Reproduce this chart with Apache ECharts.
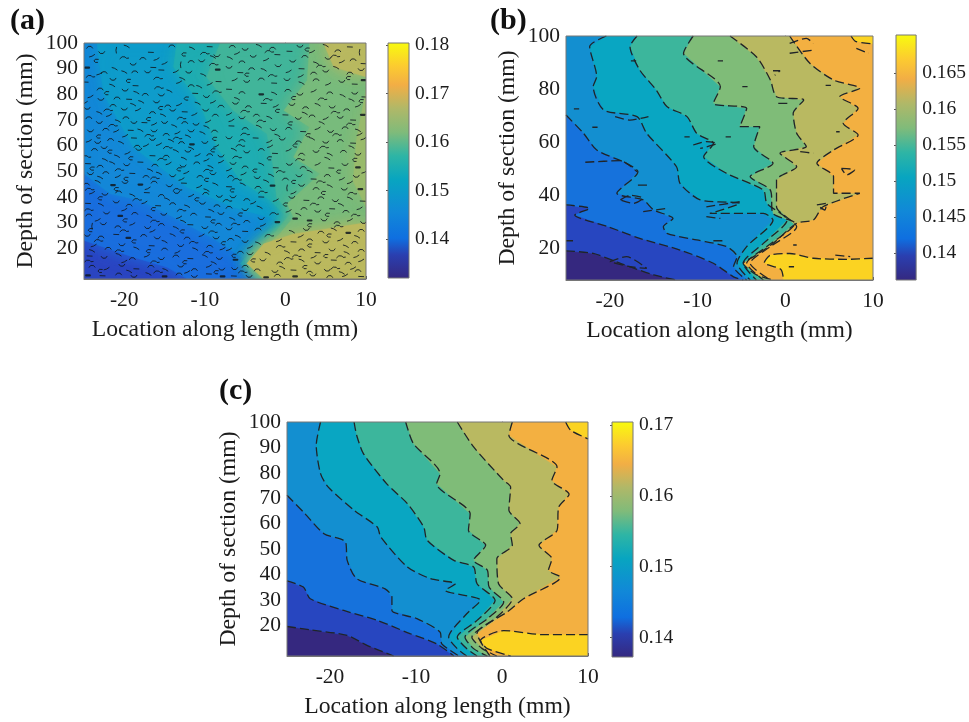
<!DOCTYPE html>
<html><head><meta charset="utf-8">
<style>html,body{margin:0;padding:0;background:#fff}#c{width:969px;height:722px;filter:blur(0.55px)}</style>
<script src="https://cdn.jsdelivr.net/npm/echarts@6/dist/echarts.min.js"></script>
</head><body><div id="c"></div>
<script>
// ---- axis extents and tick labels
const xMin=-25,xMax=10,yMin=8,yMax=100;
const xTicks=[-20,-10,0,10];
const yTicksA=[20,30,40,50,60,70,80,90,100];
const yTicksB=[20,40,60,80,100];
const yTicksC=[20,30,40,50,60,70,80,90,100];
const barRangeA=[0.13196,0.1804], barTicksA=[0.14,0.15,0.16,0.17,0.18];
const barRangeB=[0.13625,0.1703], barTicksB=[0.14,0.145,0.15,0.155,0.16,0.165];
const barRangeC=[0.13728,0.1704], barTicksC=[0.14,0.15,0.16,0.17];

// ---- contour boundaries, [location, depth]
const contoursA=[
[[-25,23],[-18.9,16.5],[-14.7,12.6],[-12.2,8]],
[[-25,49],[-21.8,41.2],[-18,38.6],[-13.9,32.1],[-8.9,23.7],[-5.2,15.9],[-2.7,8]],
[[-23.4,100],[-22.6,80.2],[-18.9,59.4],[-12.2,43.8],[-6.5,36],[-0.7,30.8],[-3.1,24.3],[-5.6,13.9],[-3.1,8]],
[[-13.5,100],[-13.9,90.6],[-10.6,76.3],[-8.5,59.4],[-5.6,46.4],[-1.9,38.6],[0.2,32.1],[-1.5,26.9],[-4.8,15.2],[-3,8]],
[[-8.1,100],[-9.8,86.7],[-6.5,73.7],[-2.3,64.6],[-1.5,51.6],[-1.1,39.9],[0.6,33.4],[-1.1,26.9],[-4.6,15.2],[-2.9,8]],
[[3,100],[2.7,85.4],[-0.2,73.7],[3,67.2],[1,55.5],[4.3,49],[0.2,37.3],[1,32.1],[-0.7,25.6],[-4.4,15.2],[-2.7,8]],
[[10,82],[8.8,62],[8.4,46],[10,36]],
[[4.7,100],[6,90.6],[10,86.7]],
[[10,30],[6,28],[1,25.5],[-2.7,21.7],[-4.8,14],[-2.7,8]]
];
const contoursB=[
[[-25,19],[-21.9,18],[-18.8,14.3],[-15,9.9],[-12.4,8]],
[[-25,36.3],[-22.3,35],[-24,32.5],[-20.2,28.1],[-16.6,23.7],[-12,19.3],[-8.2,14.3],[-5.9,9.2],[-4.8,8]],
[[-25,70.2],[-23,63.3],[-21.5,57],[-18.1,52],[-16.8,48.8],[-19.2,40.7],[-16.2,38.2],[-15,34.4],[-12.8,31.2],[-13.9,28.1],[-13.5,25.6],[-10.1,23.1],[-6.7,20.6],[-5.5,16.8],[-5.9,13],[-4.4,8]],
[[-20.4,100],[-22.3,96],[-21.5,84.7],[-21.9,80.9],[-20.7,72.1],[-16.9,69.6],[-15.8,63.3],[-12.4,50.7],[-12,44.4],[-9.7,38.2],[-5.2,36.9],[-8.6,33.1],[-2.5,33.1],[-1.4,30.6],[-4.4,20.6],[-5.5,14.3],[-4,8]],
[[-16.9,100],[-17.7,96],[-16.6,87.2],[-14.7,79.6],[-13.5,73.4],[-11.2,69.6],[-10.1,63.3],[-8.2,59.5],[-9.3,54.5],[-6.7,48.2],[-2.5,41.9],[-2.1,36.9],[0.2,30.6],[-2.5,21.8],[-4.8,14.3],[-3.3,8]],
[[-10.5,100],[-11.6,93.5],[-7.4,80.9],[-8.2,74.6],[-4.4,72.7],[-5.2,65.8],[-2.9,65.8],[-3.6,58.3],[-1.4,52],[-4,47],[-1.7,41.9],[-1.4,33.1],[1.1,29.4],[-2.1,20.6],[-4.4,14.3],[-2.5,8]],
[[-6.3,100],[-3.3,92.2],[-1.7,83.4],[-1,77.1],[2.1,75.9],[0.9,70.8],[1.3,63.3],[2.4,58.3],[-0.6,55.8],[1.3,50.7],[-1,45.7],[-1,35.6],[1.3,28.1],[-1.7,20.6],[-4,14.3],[-1.7,8]],
[[0.5,100],[2.8,89.7],[5.5,83.4],[8.5,80.3],[6.2,77.1],[8.3,72.7],[6.6,67.1],[8.3,62.7],[5.5,57],[3.6,52],[5.5,47],[5.5,40.7],[8.5,40.7],[4.3,35.6],[3.2,30.6],[1.3,29.4],[-1.4,21.8],[-3.6,16.8],[-4.8,14.3],[-3.3,10],[-1.4,8]],
[[10,16.2],[7,15.8],[3.2,16.2],[0.5,18],[-1.7,17.4],[-2.4,14.5],[-0.5,12],[-0.2,8]],
[[7.5,100],[8,98],[10,97]]
];
const contoursC=[
[[-25,19.6],[-22.3,18.3],[-18,16.1],[-15.7,12.2],[-12.6,8]],
[[-25,37.5],[-23.1,35.1],[-22.3,30.5],[-18.4,25.9],[-14.5,22],[-10.7,16.8],[-7.6,12.8],[-5.6,8]],
[[-25,71.2],[-22.9,63.9],[-20.7,56.1],[-18.2,52.8],[-18,45.6],[-16.9,38.4],[-13.6,34.4],[-12.8,31.2],[-12.8,25.9],[-9.9,22.7],[-7.2,17.4],[-7,12.8],[-5,8]],
[[-21.1,100],[-21.6,90.8],[-21.1,79.7],[-20.2,74.4],[-17.2,65.3],[-14.5,58.7],[-14.1,54.8],[-11,43],[-8.3,38.4],[-5.4,36.4],[-6.6,33.8],[-2.5,29.9],[-4.1,24.6],[-6.2,15.4],[-5.2,10.9],[-4.1,8]],
[[-17.2,100],[-16.9,94.8],[-16.1,87.5],[-13.4,75.7],[-11,67.9],[-9.1,58.7],[-8.7,53.5],[-5.6,45.6],[-3.3,43],[-2.9,36.4],[-0.8,29.9],[-2.9,22],[-5.2,15.4],[-4.1,10.9],[-2.9,8]],
[[-11.2,100],[-10.3,91.5],[-7.2,79.7],[-7.6,75.7],[-3.7,63.9],[-3.9,57.4],[-1.9,51.5],[-3.3,45.6],[-1.7,41.7],[-1.5,35.1],[0.2,29.2],[-1.7,22.7],[-4.3,15.4],[-3.3,10.9],[-1.7,8]],
[[-5.2,100],[-3.3,90.2],[0.2,77],[1,74.4],[0.8,65.3],[2.1,60],[1,56.1],[1.2,51.5],[-0.6,46.2],[-0.4,36.4],[1.2,30.5],[-0.8,22.7],[-3.5,15.4],[-2.3,10.9],[-0.6,8]],
[[1.2,100],[0.8,94.8],[6.4,82.3],[5.8,77],[7.8,71.6],[6.6,66.6],[6.4,57.4],[4.3,51.5],[5.8,46.2],[5.4,41.7],[6.8,39],[2.5,30.5],[0.6,25.3],[-2.9,16.8],[-1.4,8]],
[[10,16.4],[4.8,16.4],[0.2,18],[-2.5,14.1],[-1.7,10.9],[1,8]],
[[7.4,100],[8,96.7],[10,93.4]]
];
// ---- small closed/isolated contour pieces of panel b
const islandsB=[
[[0.5,97.2],[2.4,99.1],[3.2,97.2]],[[0.5,93.5],[3.2,94.7]],[[8.1,95.3],[9.5,93.5]],
[[-1.4,86.9],[-0.6,86.9],[-1.2,85.2]],[[-17.6,90.6],[-17,90.6]],[[-7.7,90.6],[-7.1,90.6]],
[[-4.9,80.9],[-4.3,80.9]],[[4.6,81.4],[5.2,81.4]],[[-24.1,72.5],[-23.5,72.5]],[[-22,65.6],[-21.4,65.6]],
[[-11.5,62],[-10.9,62]],[[-6.8,62],[-6.2,62]],[[-16.8,43.8],[-15.6,43.8]],[[-8.2,22.8],[-7,22.8]],
[[-25,22.8],[-24.2,22.8]],[[5.8,63.9],[6.2,63.9]],[[0.9,21.2],[1.3,21.2]],[[0.4,13],[1,13]],
[[-18.8,38.2],[-17.7,40],[-16.2,38.8],[-17.3,36.9],[-18.8,38.2]],
[[-22.8,52.4],[-18.8,53],[-16.9,48.8]],[[-19.4,69.6],[-17.7,68.3],[-15.6,69.6]],
[[-10.5,58.9],[-9,60.2],[-7.8,59.5],[-9.7,57.6]],[[3.6,36.3],[4.7,36.9],[4.5,34.4],[3.6,36.3]],
[[6.4,50.1],[7.9,49.5],[7,47.6],[6.4,50.1]],[[-0.8,74.6],[0.3,74.6]],[[1.7,56.4],[3.2,55.8]],
[[5.7,17.4],[7.4,16.8]],[[-20,14.9],[-18.1,16.8],[-15.8,12.4],[-17.7,13],[-20,14.9]],
[[-9,35.6],[-5.2,37.5]],[[-9,31.9],[-7.4,31.2]],[[-16.2,33.8],[-13.5,35]]
];
// ---- the many tiny contours of panel a: location, depth, shape (read by eye, quadrant by quadrant)
const marksA=[
-24.3,98.4,0,-22.8,96.2,1,-21,97.2,6,-19.7,98.7,3,-16.7,96.4,5,-14.1,98.9,0,-11.6,98,3,-9.4,98.6,5,-8.5,95,1,
-24.6,90.4,7,-24,95,2,-22.5,88.5,0,-21.2,90,3,-18.9,91.7,1,-17.7,94,0,-16.4,90.5,5,-15,92.1,2,-13,91.5,6,-11.7,92.8,0,-10.4,93,1,-9,94.6,3,-8.4,89.6,7,
-24.8,84.8,5,-23.1,88,2,-21.4,85.8,1,-20,88.7,3,-18.7,88.8,0,-17.1,88.7,1,-15.4,89.5,5,-13.6,88.9,2,-12,88.6,1,-10.2,87.6,3,-9.4,84,2,
-23,82.1,0,-21.5,83.5,3,-19.9,81.6,1,-18.6,83.4,5,-17.4,80,0,-15.4,79.7,1,-14.4,81.3,3,-13.2,84.7,2,-11.7,83.4,0,-10.7,83,3,-8.3,85,5,
-24.2,79.1,2,-22.9,78,1,-20.9,78.6,0,-19.4,78.1,5,-17.9,77.1,3,-16,77,1,-14.6,75.5,0,-13.2,76,2,-11.2,80.4,5,-10.9,76.5,3,-9.8,79.1,1,-8,75.4,0,
-24.6,74.5,1,-23.1,72.8,3,-21.4,75.7,0,-20,74.2,1,-18.3,74,2,-16.5,72.9,0,-15.2,71.9,3,-14,73.8,1,-12.5,73.2,5,-11.3,72.2,2,-9.9,73.8,1,-8.7,71.9,0,
-24.4,70.9,0,-23.1,69,1,-21.9,71.8,2,-20.8,69.6,3,-19.8,70.9,0,-18.8,69,1,-17.5,69,5,-16.3,68.4,2,-15,69,1,-13.8,67.7,3,-12.5,69,0,-11.1,68.3,1,-9.6,69.4,2,
-24.2,65.7,1,-22.3,66.4,0,-21,65.7,2,-19.2,66,5,-18,66,3,-16.3,65.7,1,-14.8,64.4,0,-13.4,65,2,-11.7,65.7,1,-10.3,65,3,-8.8,65.7,0,
-24.4,61.8,2,-23.3,61.2,1,-21.7,62.4,0,-20.4,61.2,3,-18.8,63,5,-18.4,59.8,0,-16.5,62.4,1,-15.7,60.5,2,-14.2,62,3,-12.9,61.2,0,-11.6,60.5,7,-10,61.2,1,-8.6,59.8,2,
-23.7,58.5,0,-22.5,59.2,1,-20.9,55.9,3,-19.6,57.1,2,-18.2,58.5,1,-16.5,56.1,5,-14.8,55.9,0,-13.6,58,3,-12.1,57.8,1,-10.9,56.3,2,-9.4,56.5,0,-8,55.9,1,
-6.6,98.7,0,-5,97.5,1,-3.3,99,3,-1.6,98,0,0.5,96.8,5,1.8,98.7,1,3.3,96.6,2,5,99,3,6.5,97,0,8,98.5,5,9.2,96.4,6,
-6.9,94.2,3,-5.4,92.7,0,-4,94.8,1,-2.4,93.5,2,-1,95.5,5,0.9,92.9,1,2.4,94.8,0,3.8,92.2,3,5.3,94,1,7,92.7,2,8.4,93.5,0,9.7,92,5,
-7,90.5,1,-5.6,88.5,5,-4.2,90,0,-2.7,89.6,3,-0.9,91.1,1,0.4,88.9,2,2,90,5,3.5,88.3,0,5,89,1,6.3,90.4,3,8,88.3,0,9.4,89.6,1,
-6.3,85.7,2,-4.8,85,1,-3,86,0,-1.4,84.4,5,0.2,85.7,1,2,84.4,3,3.8,85.7,0,5.3,84,2,7,85,1,8.6,84,5,9.7,85.5,7,
-7,82,5,-5.4,80.7,0,-3,80,7,-1.4,80.4,3,0.3,81.6,0,1.8,80,1,3.5,81.3,2,5.5,80.6,0,7.1,79.5,3,8.6,80.4,1,9.8,79,5,
-6.2,76.5,1,-4.6,75.2,0,-2.7,76.5,5,-1.2,75.4,2,0.8,76,1,2.5,74.8,0,4,76,3,5.8,75,1,7.6,74,0,9,75.5,2,9.6,72,7,
-7,72.3,2,-5.4,70.8,1,-3.6,71.9,0,-2,71,3,0,72,5,1.6,70.6,1,3.3,71.6,0,5,70.6,2,6.8,71,1,8.4,70,5,
-6.7,67.7,5,-5,66.7,0,-3.3,67.5,3,-1.5,66.2,1,0.4,66.8,0,2.2,65.5,5,4,66.7,2,5.6,65.5,1,7.4,67,0,9,66,3,
-7,63,1,-5.4,62,0,-3.7,63,5,-2,61.6,2,-0.4,62.5,1,1.6,61.5,0,3.3,62.7,3,5,61.3,1,6.8,62,0,8.4,61,5,9.7,62.7,2,
-6.4,58.5,3,-4.8,57.5,1,-3,58.5,0,-1.3,57,5,0.4,58.3,2,2,56.7,0,3.8,57.7,1,5.5,56.6,3,7.2,57.8,0,9,56.6,1,
-24.5,53,5,-23,52,0,-21.5,53.3,3,-19.7,52.5,1,-18,53.6,5,-16.2,52.4,0,-14.5,53,2,-12.7,52,1,-11,53.3,0,-9.3,51.8,3,-8,53.7,2,
-24.2,49,1,-22.3,49.5,0,-20.8,48,2,-19,49.2,5,-17.3,48,0,-15.7,49.2,3,-14,48.2,1,-12.3,49.5,2,-10.6,48,0,-9,49,1,
-24.7,45,0,-23.3,46,3,-21.4,44.6,7,-19.9,45.6,1,-18,44.8,7,-16.3,45.8,0,-14.4,44.3,1,-12.6,45.4,5,-10.7,44,2,-8.7,45,3,
-24,41.6,2,-22.4,41,1,-20.7,42,0,-19,40.7,3,-17.2,41.7,5,-15.4,40.6,0,-13.5,41.7,1,-11.7,40.5,2,-9.9,41.4,0,-8.2,40.2,1,
-24.5,37.5,5,-22.9,37,3,-21,38,1,-19.4,36.8,0,-17.5,37.8,2,-15.8,36.6,5,-14,37.4,0,-12.2,36.4,3,-10.3,37.5,1,-8.5,36.6,0,
-24.4,33,0,-22.2,33.7,1,-20.5,32.6,7,-18.7,33.6,0,-16.9,32.4,3,-15.1,33.2,1,-13.2,32,2,-11.4,33.3,0,-9.6,32.2,5,-8,33.5,1,
-24,28.6,6,-22.6,29.5,1,-20.8,28.4,0,-19,29.4,2,-17.1,28,1,-15.4,29.3,0,-13.6,28,3,-11.8,29.2,5,-10,28,1,-8.3,29.4,0,
-24.6,25,1,-22.9,24.4,0,-21,25.4,5,-19.5,24,7,-17.6,25,0,-15.9,24,1,-14,25.2,3,-12.2,24,0,-10.4,25,2,-8.6,24,1,
-23.8,21,2,-22,20,0,-20.3,21.3,1,-18.5,20,3,-16.6,21,5,-15,19.7,0,-13,21,1,-11.2,19.7,3,-9.4,20.8,0,-7.8,19.8,2,
-24.3,17,5,-22.5,16.4,1,-20.7,17.5,3,-19,16,0,-17.2,17,2,-15.4,15.9,1,-13.6,17,0,-11.8,16,5,-10,17,3,-8.2,16,1,
-24,13,0,-22.2,12,2,-20.3,13.3,1,-18.5,12,5,-16.7,13,0,-14.9,11.6,3,-13,13,1,-11.3,11.7,0,-9.5,13,2,-7.9,11.8,1,
-24.5,9.4,7,-22.7,9.3,5,-20.7,10,0,-18.8,9,1,-17,10,3,-15,9,7,-13.2,10,0,-11.3,9,1,-9.5,10,5,-7.8,9,7,
-6.5,53,1,-5,51.7,0,-3,52.8,3,-1.2,51.4,5,0.5,52.7,1,2.2,51.5,0,4,52.8,2,5.7,51.3,5,7.4,52.6,1,9,51.5,7,
-6.8,48,0,-5.2,49,2,-3.5,47.5,1,-1.8,48.5,3,0,47,0,1.7,48.2,1,3.5,47,5,5.2,48.4,0,7,47,2,8.8,48,1,
-7,44,5,-5.3,45,3,-3.4,43.8,0,-1.6,44.4,7,0.2,43.5,6,2,44.5,1,3.8,43.3,0,5.5,44.3,3,7.3,43,1,9.3,43,7,
-6.5,40,1,-4.8,39,0,-3,40,5,-1.2,38.7,2,0.8,39.8,1,2.6,38.7,5,4.4,39.7,0,6.2,38.5,1,8,39.5,3,9.6,38.4,5,
-7,36,0,-5,35,1,-3.2,36,3,0.4,34.5,2,2.3,35.5,0,4,34.4,1,5.8,35.4,5,7.5,34.4,0,9.2,35.5,2,
-6.6,31.5,3,-4.8,30.5,0,-3,31.5,1,-1,30.2,7,1.2,31.5,7,3,30.8,7,4.8,31,1,6.4,30,0,8,31,2,9.7,30,1,
-7,27.5,1,-5,26.6,5,-3.4,27.5,0,0.8,26.5,3,2.6,27.3,1,4.4,26.3,0,6,27.4,3,7.8,26,7,9.4,27,0,
-6.8,23.5,0,-5,22.6,1,-3.4,22,3,-0.8,23,2,1,22.5,5,3,23.3,0,5,22.4,1,6.8,23.3,2,8.6,22.3,0,
-7,19.5,2,-5.6,18.5,0,-4.4,17.8,1,0.2,18.6,3,2,19.4,0,4,18.3,5,5.8,19.3,1,7.6,18.2,3,9.4,19.2,0,
-6.2,15.5,7,-5,13,0,-2.8,15.4,1,-0.7,14.3,0,2,15.3,3,4,14.2,1,6,15.4,5,7.8,14.2,0,9.4,15.2,2,
-6.3,12,1,-3.5,11.6,0,-1.3,10.9,1,1,11.5,5,3,10.7,0,5.2,11.4,1,7,10.4,3,9,11.3,0,
-6.4,9.2,5,-4.5,9,1,-2.4,8.6,7,-1,9.5,0,1.2,9,7,3.4,9.5,1,5.5,9,0,7.4,9.4,2,9.4,9,5
];
// ---- further tiny contours of panel a, placed between the first set
const marksA2=[
-23.5,93,8,-20,94.3,9,-16,93.7,2,-12.6,95.5,8,-10,96,9,-6,96,2,-2,96.7,9,2.7,97.4,8,6.2,94.9,9,
-24.2,87,9,-19.5,85.2,8,-15.8,86.3,9,-12.8,86.1,3,-8.9,91.7,9,-4.8,87.6,8,-1.6,87.3,9,1.9,87.1,2,4.4,91,9,7.8,86.3,8,
-22.2,80.4,8,-18.5,80.7,3,-15.7,82.6,9,-12.3,78.3,8,-8.5,81,9,-6,78.3,3,-2.2,78,9,1,78.5,8,4.6,78.2,9,8.2,77.8,3,
-24.9,76.7,2,-22,73.9,9,-18.9,76,3,-15.5,74.6,8,-12.9,70.7,9,-9,77,2,-5,73.4,9,-1,73.5,8,2.4,72.6,3,6.2,73,9,9.4,77.3,8,
-21.4,67.9,9,-17,70.3,8,-13.4,62.9,9,-9.8,67.3,3,-6.7,69.8,2,-3,69.6,9,0.6,68.6,8,4.5,68.9,3,8.1,68.4,9,
-23.2,63.5,8,-19.9,63.8,2,-16.9,64,9,-12.1,63.7,3,-8.8,62.6,8,-5,64.5,9,-1,64,3,2.8,64,8,6.4,64.3,9,9.2,64.4,2,
-24.7,55.7,9,-21.8,57.6,8,-17.3,60.1,2,-14.6,59.3,9,-11.7,59,3,-9,58.1,8,-5.6,60,9,-1.9,59.7,2,1.2,60,8,4.8,59.4,9,8.2,59.5,3,
-22.4,54.5,3,-19.2,55,8,-15.3,54.7,9,-12.6,55,3,-9.8,54.4,2,-6,55.5,9,-2,55,8,1.8,54.6,9,5.2,55,3,8.6,54.4,8,
-24,51,8,-20.6,50.6,9,-16.8,50.5,3,-13.2,50.7,8,-9.6,50.4,9,-7,50.6,2,-3.8,50.2,8,-0.6,49.9,9,3,50,3,6.6,49.8,8,9.8,49.7,2,
-23,47.6,3,-19.8,47,8,-16.2,47.4,9,-12.9,46.9,2,-9.8,46.6,8,-6,46.8,9,-2.4,46.2,3,1,45.8,8,4.4,45.9,9,8,45.6,2,
-24.3,43,9,-21,43,8,-17.1,43.3,2,-13.4,42.9,9,-9.8,42.7,3,-6.6,42.5,8,-2.8,41.9,9,1,41.6,2,4.7,41.5,8,8.3,41.4,9,
-23,39.4,8,-18.4,39,9,-14.7,39.2,3,-11,39,8,-7.2,38.6,9,-4,37.7,2,0,37,8,3.6,37.2,9,6.9,37,3,
-24.4,35,9,-20,35,2,-16.4,35.2,8,-12.9,34.8,9,-9.2,34.7,3,-5.6,33.1,8,-1.4,33.5,9,1.6,33.2,3,5.2,33,8,8.7,32.9,9,
-23.3,31,2,-19.9,30.8,8,-16.2,30.6,9,-12.7,30.5,3,-9,30.4,8,-6.2,29.4,9,-2.8,29,2,3,28.9,8,6.6,28.6,9,
-24.2,27,8,-20,26.8,9,-16.5,26.7,2,-12.8,26.5,8,-9,26.4,9,-5.9,24.6,3,-2,25,9,1.9,24.7,2,5.4,24.9,8,8.9,24.5,3,
-23.2,23,9,-18.8,22.6,8,-15,22.6,3,-11.4,22.3,9,-7.7,21.9,8,-4.4,20.4,2,-0.6,20.7,9,3,21,8,7.5,20.8,3,
-24,19,3,-20.6,19,9,-17,18.8,8,-13.4,18.5,2,-9.6,18.4,9,-6.4,17,8,-2.2,18,3,1.4,17,9,5,16.9,8,8.8,16.8,2,
-24.4,15,9,-20,14.8,2,-16.2,14.7,9,-12.5,14.5,8,-8.9,14.3,3,-4,15.2,8,0.4,16,9,3.5,16.6,2,6.9,16.7,9,
-23,11.1,8,-19.4,11,3,-15.8,10.8,9,-12.2,10.7,2,-8.6,10.6,8,-5.3,10.8,9,-0.4,12.5,3,2.4,12.6,8,6.2,12.3,9,8.4,12.2,2
];
// ---- fill colours of the bands, lowest first; colourbar stops
const bandsA=['#2b45c2','#1a6ede','#1488d8','#0e9ccb','#1fadb2','#41b59a','#78bb7c','#99bb6c','#b9b960','#bbb95e'];
const bandsB=['#35287f','#2746c0','#1672dc','#138fd0','#09a6c2','#3cb69c','#7fbc78','#b9b961','#f3b041','#fbd322','#fbd322'];
const bandsC=['#35287f','#2746c0','#1672dc','#138fd0','#09a6c2','#3cb69c','#7fbc78','#b9b961','#f3b041','#fbd322','#fbd322'];
const barStops=[[0,'#35287f'],[0.1,'#2a3fb0'],[0.17,'#0f6fe0'],[0.28,'#1188d8'],[0.42,'#08a5c0'],[0.52,'#2eb5a5'],[0.62,'#80bb7a'],[0.72,'#b0b868'],[0.82,'#f2ae45'],[0.9,'#fccb30'],[1,'#f8fb0e']];

const layouts=[
 {p:{left:84,top:43,width:282,height:236},b:{left:388,top:43,width:21,height:235},lab:'(a)',lx:10,ly:6},
 {p:{left:566,top:36,width:307,height:244},b:{left:896,top:35,width:21,height:245},lab:'(b)',lx:490,ly:6},
 {p:{left:287,top:422,width:301,height:234},b:{left:612,top:422,width:21,height:235},lab:'(c)',lx:219,ly:376}
];
const font='"Liberation Serif","Times New Roman",serif';
const ink='#1c1c1c';

function perim(q){const[x,y]=q;
 if(y===yMin)return (x-xMin)/(xMax-xMin);
 if(x===xMax)return 1+(y-yMin)/(yMax-yMin);
 if(y===yMax)return 2+(xMax-x)/(xMax-xMin);
 return 3+(yMax-y)/(yMax-yMin);}
const corners=[[xMin,yMin],[xMax,yMin],[xMax,yMax],[xMin,yMax]];
function closed(line){
 const te=perim(line[line.length-1]);let ts=perim(line[0]);if(ts<te)ts+=4;
 const out=line.slice();
 for(let c=Math.floor(te)+1;c<ts;c++)out.push(corners[c%4]);
 return out;}
const full=corners;

const grids=[],xAxes=[],yAxes=[],series=[],graphics=[];
const markScale=0.72;
const shapes=[
 [[-4,1.6],[-2,-1],[2,-1],[4,1.4]],
 [[-4,-1.4],[-2,1],[2,1],[4,-1.6]],
 [[-3.5,1.5],[0,0.5],[3.5,-1.8]],
 [[-3.5,-1.5],[0,-0.5],[3.5,1.8]],
 [[-1.2,0],[1.2,0]],
 [[-3.5,0],[3.5,0.3]],
 [[0.4,-4],[-0.4,0],[0.2,4]],
 [[-2.5,0],[2.5,0]],
 [[3,-2.2],[-1,-2.4],[-3,0],[-1,2],[2,2]],
 [[-6,1.5],[-3,-1.2],[1,-1],[3,1],[6,0.6]]
];
function addPanel(i,contours,bands,yTicks,barRange,barTicks,extra){
 const L=layouts[i],g=grids.length;
 grids.push(Object.assign({containLabel:false},L.p));
 const axisFont={fontFamily:font,fontSize:21.5,color:ink};
 const barFont={fontFamily:font,fontSize:19.5,color:ink};
 xAxes.push({gridIndex:g,type:'value',min:xMin,max:xMax,
  name:'Location along length (mm)',nameLocation:'middle',nameGap:39,
  nameTextStyle:{fontFamily:font,fontSize:23.7,color:ink},
  axisLine:{lineStyle:{color:'#777',width:1}},axisTick:{inside:true,length:3,customValues:xTicks,lineStyle:{color:'#555'}},
  axisLabel:Object.assign({customValues:xTicks,margin:10,showMinLabel:true,showMaxLabel:true},axisFont),splitLine:{show:false}});
 yAxes.push({gridIndex:g,type:'value',min:yMin,max:yMax,
  name:'Depth of section (mm)',nameLocation:'middle',nameGap:46,nameRotate:90,
  nameTextStyle:{fontFamily:font,fontSize:23.7,color:ink},
  axisLine:{lineStyle:{color:'#777',width:1}},axisTick:{inside:true,length:3,customValues:yTicks,lineStyle:{color:'#555'}},
  axisLabel:Object.assign({customValues:yTicks,margin:6,padding:[4,0,0,0]},axisFont),splitLine:{show:false}});
 const polys=[full].concat(contours.map(closed));
 const soft=extra.soft||0;
 series.push({type:'custom',xAxisIndex:g,yAxisIndex:g,clip:true,silent:true,z:1,
  data:polys.map((_,k)=>[k]),
  renderItem:(p,api)=>{const k=api.value(0);
   return {type:'polygon',shape:{points:polys[k].map(q=>api.coord(q))},style:{fill:bands[k],stroke:bands[k],lineWidth:0.3,shadowBlur:soft,shadowColor:bands[k]}};}});
 if(extra.dashed){
  contours.concat(extra.islands||[]).forEach(c=>series.push({type:'line',xAxisIndex:g,yAxisIndex:g,data:c,showSymbol:false,silent:true,z:3,clip:true,smooth:0.25,
   lineStyle:{color:'#202428',width:1.3,type:[9,4]},animation:false}));
 }
 if(extra.marks){
  const m=extra.marks,rows=[];for(let j=0;j<m.length;j+=3)rows.push([m[j],m[j+1],m[j+2]]);
  series.push({type:'custom',xAxisIndex:g,yAxisIndex:g,clip:true,silent:true,z:3,data:rows,
   renderItem:(p,api)=>{const c=api.coord([api.value(0),api.value(1)]),s=api.value(2);
    return {type:'polyline',shape:{points:shapes[s].map(o=>[c[0]+o[0]*markScale,c[1]+o[1]*markScale])},
     style:{fill:null,stroke:'#10181f',lineWidth:s===7?2.2:1,lineCap:'round',lineJoin:'round',opacity:0.85}};}});
 }
 // frame
 series.push({type:'custom',xAxisIndex:g,yAxisIndex:g,silent:true,z:5,data:[[0]],
  renderItem:(p,api)=>({type:'polygon',shape:{points:full.map(q=>api.coord(q))},style:{fill:null,stroke:'#777',lineWidth:1}})});
 // colourbar
 const h=grids.length;
 grids.push(Object.assign({},L.b));
 xAxes.push({gridIndex:h,type:'value',min:0,max:1,show:false});
 yAxes.push({gridIndex:h,type:'value',min:barRange[0],max:barRange[1],position:'right',
  axisLine:{show:false},axisTick:{inside:true,length:2,customValues:barTicks,lineStyle:{color:'#555'}},
  axisLabel:Object.assign({customValues:barTicks,margin:6,padding:[3,0,0,0],formatter:v=>String(+v.toFixed(4))},barFont),splitLine:{show:false}});
 series.push({type:'custom',xAxisIndex:h,yAxisIndex:h,silent:true,z:2,data:[[0]],
  renderItem:(p,api)=>{const a=api.coord([0,barRange[0]]),b=api.coord([1,barRange[1]]);
   return {type:'rect',shape:{x:a[0],y:b[1],width:b[0]-a[0],height:a[1]-b[1]},
    style:{fill:new echarts.graphic.LinearGradient(0,1,0,0,barStops.map(s=>({offset:s[0],color:s[1]}))),stroke:'#777',lineWidth:1}};}});
 graphics.push({type:'text',left:L.lx,top:L.ly,z:10,style:{text:L.lab,font:'bold 30px '+font,fill:'#111'}});
}
addPanel(0,contoursA,bandsA,yTicksA,barRangeA,barTicksA,{marks:marksA.concat(marksA2),soft:16});
addPanel(1,contoursB,bandsB,yTicksB,barRangeB,barTicksB,{dashed:true,islands:islandsB});
addPanel(2,contoursC,bandsC,yTicksC,barRangeC,barTicksC,{dashed:true});

const chart=echarts.init(document.getElementById('c'),null,{renderer:'canvas'});
chart.setOption({animation:false,backgroundColor:'#fff',grid:grids,xAxis:xAxes,yAxis:yAxes,series,graphic:graphics});
</script></body></html>
